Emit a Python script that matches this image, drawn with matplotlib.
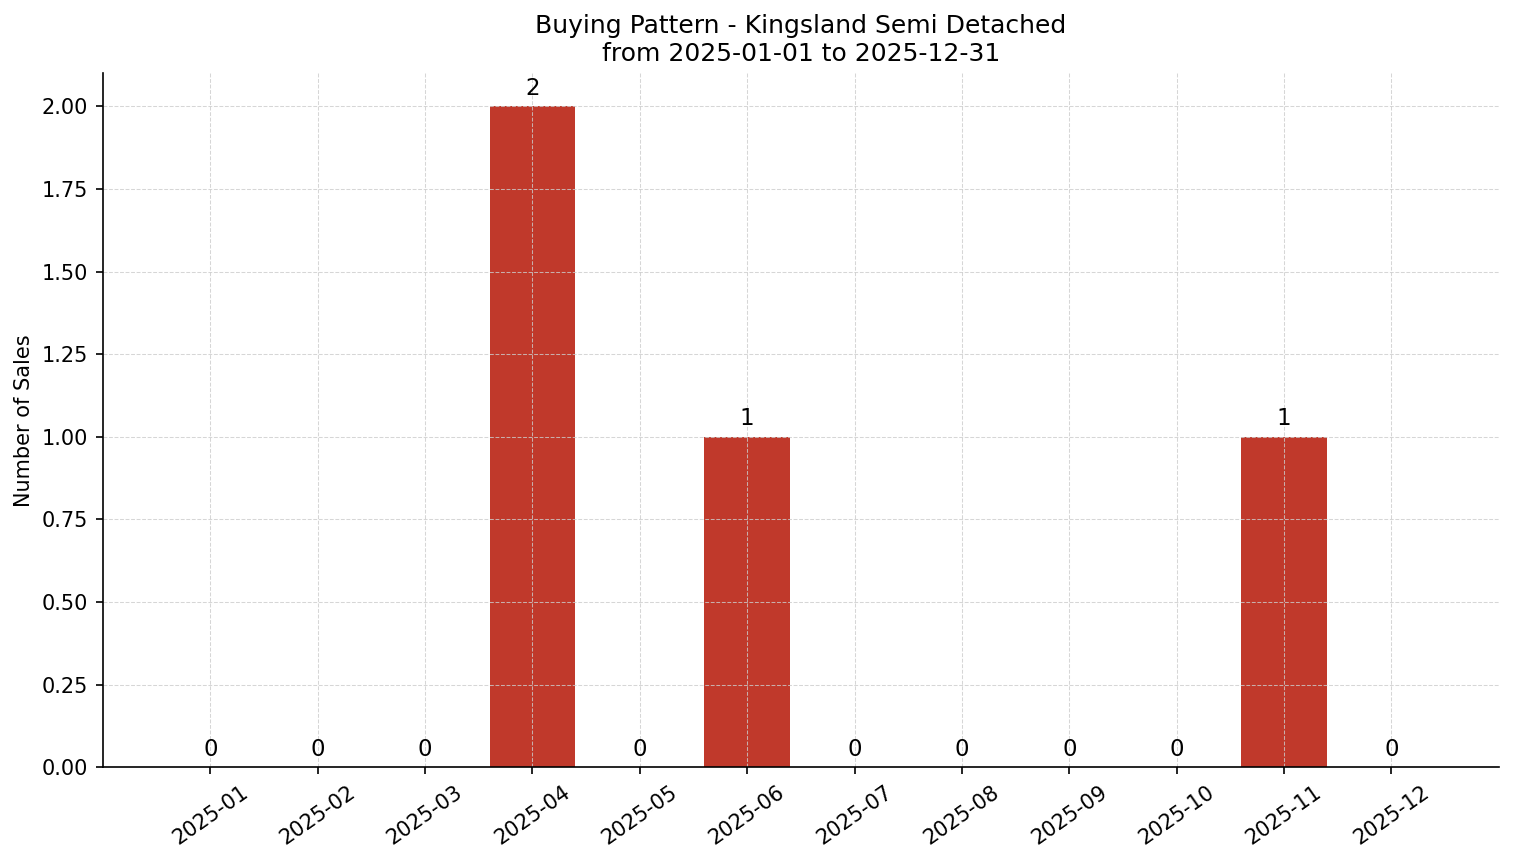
import matplotlib
matplotlib.use('Agg')
import matplotlib.pyplot as plt
from matplotlib.ticker import FormatStrFormatter

months = ['2025-01', '2025-02', '2025-03', '2025-04', '2025-05', '2025-06',
          '2025-07', '2025-08', '2025-09', '2025-10', '2025-11', '2025-12']
sales = [0, 0, 0, 2, 0, 1, 0, 0, 0, 0, 1, 0]

BAR = '#c0392b'

fig = plt.figure(figsize=(1514 / 150, 863 / 150), dpi=150)
ax = fig.add_axes([0.068, 0.111, 0.922, 0.804])

x = list(range(len(months)))
ax.bar(x, sales, width=0.8, color=BAR)
for xi, v in zip(x, sales):
    ax.text(xi, v + 0.02, f'{v}', ha='center', va='bottom', fontsize=11)

ax.set_xticks(x)
ax.set_xticklabels(months, rotation=35, fontsize=10)
ax.tick_params(axis='y', labelsize=10)
ax.set_xlim(-1.0, 12.0)
ax.set_ylim(0, 2.1)
ax.yaxis.set_major_formatter(FormatStrFormatter('%.2f'))
ax.set_ylabel('Number of Sales', fontsize=10)
ax.set_title('Buying Pattern - Kingsland Semi Detached\nfrom 2025-01-01 to 2025-12-31',
             fontsize=12)
ax.grid(True, linestyle='--', color='#cccccc', linewidth=0.5, alpha=0.8)
ax.spines['top'].set_visible(False)
ax.spines['right'].set_visible(False)

fig.savefig('out.png', dpi=150, facecolor='white')
